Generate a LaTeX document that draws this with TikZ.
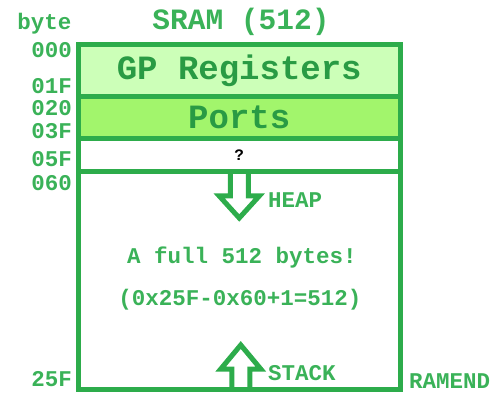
\documentclass[tikz,border=0pt]{standalone}
\usepackage{fontspec}
\setmainfont{Liberation Mono}
\usetikzlibrary{positioning}

\definecolor{ramgreen}{RGB}{45,172,75}
\definecolor{txtgreen}{RGB}{58,178,88}
\definecolor{gpfill}{RGB}{204,255,184}
\definecolor{portfill}{RGB}{162,245,108}

\begin{document}
\begin{tikzpicture}[x=1pt, y=-1pt,
    region/.style={draw=ramgreen, line width=5pt, minimum width=321.5pt,
      inner sep=0pt, outer sep=0pt, text=txtgreen},
    big/.style={font=\fontsize{34}{34}\selectfont\bfseries, text=ramgreen!90!black},
    small/.style={font=\fontsize{22.5}{22.5}\selectfont\bfseries, text=txtgreen},
    addr/.style={small, anchor=east, inner sep=0pt},
    side/.style={small, anchor=west, inner sep=0pt},
    hollow/.style={draw=ramgreen, line width=5pt, line join=miter}]
  \useasboundingbox (0,0) rectangle (504,393);
  % Memory regions, top to bottom
  \node[region, big, fill=gpfill, minimum height=52pt] (gp) at (239.25,70.5) {GP Registers};
  \node[region, big, fill=portfill, minimum height=42pt, below=0pt of gp] (ports) {Ports};
  \node[region, fill=white, minimum height=33pt, below=0pt of ports,
        font=\fontsize{16}{16}\selectfont\bfseries, text=black] (unk) {?};
  \node[region, minimum height=217.5pt, below=0pt of unk] (free) {};
  % Titles
  \node[small, font=\fontsize{29.5}{29.5}\selectfont\bfseries] (title) at (241,22) {SRAM (512)};
  \node[small] (byte) at (44.5,24) {byte};
  % Addresses on the left
  \node[addr] (a000) at (72,50) {000};
  \node[addr] (a01F) at (72,86) {01F};
  \node[addr] (a020) at (72,108) {020};
  \node[addr] (a03F) at (72,131) {03F};
  \node[addr] (a05F) at (72,159) {05F};
  \node[addr] (a060) at (72,183) {060};
  \node[addr] (a25F) at (72,379) {25F};
  \node[side] (ramend) at (409,381) {RAMEND};
  % Heap grows down, stack grows up
  \draw[hollow, shift={(free.north)}] (-9,0) -- (-9,24.5) -- (-20,24.5) -- (0,46.5)
    -- (20,24.5) -- (9,24.5) -- (9,0);
  \draw[hollow, shift={(free.south)}] (-7.5,0) -- (-7.5,-20) -- (-18.5,-20) -- (1.5,-44)
    -- (21.5,-20) -- (10.5,-20) -- (10.5,0);
  \node[side] (heap) at (268,200) {HEAP};
  \node[side] (stack) at (268,373) {STACK};
  % Text in the free area
  \node[small] (full) at (242,258) {A full 512 bytes!};
  \node[small] (calc) at (240,300) {(0x25F-0x60+1=512)};
\end{tikzpicture}
\end{document}
